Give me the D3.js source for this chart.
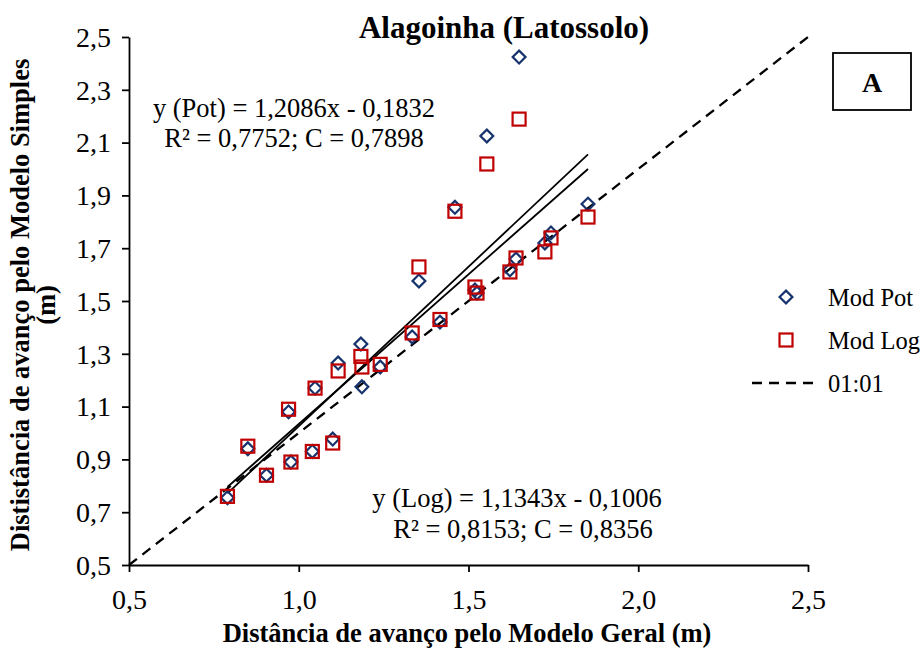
<!DOCTYPE html>
<html lang="pt">
<head>
<meta charset="UTF-8">
<script src="https://d3js.org/d3.v7.min.js"></script>
<style>
  body { margin: 0; background: #fff; }
  svg { display: block; font-family: "Liberation Serif", "Times New Roman", serif; }
</style>
</head>
<body>
<svg></svg>
<script>
// Distancia pelo Modelo Geral (x) e pelo Modelo Simples (y)
let geral  = [0.79, 0.85, 0.905, 0.97, 0.977, 1.04, 1.048, 1.10, 1.116, 1.183, 1.186, 1.24, 1.334,
              1.354, 1.416, 1.46, 1.519, 1.525, 1.554, 1.622, 1.64, 1.649, 1.725, 1.743, 1.852];
let modPot = [0.755, 0.94, 0.84, 1.08, 0.89, 0.93, 1.17, 0.977, 1.265, 1.337, 1.175, 1.25, 1.364,
              1.576, 1.42, 1.855, 1.542, 1.53, 2.125, 1.618, 1.659, 2.424, 1.72, 1.758, 1.867];
let modLog = [0.76, 0.95, 0.84, 1.09, 0.89, 0.93, 1.17, 0.962, 1.235, 1.29, 1.25, 1.26, 1.379,
              1.629, 1.43, 1.84, 1.553, 1.53, 2.019, 1.61, 1.663, 2.189, 1.686, 1.739, 1.818];

// regressoes (a, b)
let fitPot = [1.2086, -0.1832];
let fitLog = [1.1343, -0.1006];

let ticks = [0.5, 0.7, 0.9, 1.1, 1.3, 1.5, 1.7, 1.9, 2.1, 2.3, 2.5];
let xticks = [0.5, 1.0, 1.5, 2.0, 2.5];

let width = 922, height = 649;
let margin = {left: 129, right: 114, top: 37, bottom: 84};

let svg = d3.select("svg").attr("width", width).attr("height", height);

let x = d3.scaleLinear().domain([0.5, 2.5]).range([margin.left, width - margin.right]);
let y = d3.scaleLinear().domain([0.5, 2.5]).range([height - margin.bottom, margin.top]);

let comma = d3.format(".1f");
let fmt = v => comma(v).replace(".", ",");

// eixos
let xAxis = svg.append("g")
    .attr("transform", "translate(0," + y(0.5) + ")")
    .call(d3.axisBottom(x).tickValues(xticks).tickFormat(fmt).tickSize(7).tickSizeOuter(0));
let yAxis = svg.append("g")
    .attr("transform", "translate(" + x(0.5) + ",0)")
    .call(d3.axisLeft(y).tickValues(ticks).tickFormat(fmt).tickSize(7).tickSizeOuter(0));

[xAxis, yAxis].forEach(g => {
  g.selectAll("path, line").attr("stroke", "#000").attr("stroke-width", 1.8);
  g.selectAll("text").attr("fill", "#000").style("font-family", "Liberation Serif").style("font-size", "28px");
});
xAxis.selectAll("text").attr("y", 44).attr("dy", 0);
yAxis.selectAll("text").attr("x", -18).attr("dy", "0.33em");

// linha 1:1
svg.append("line")
    .attr("x1", x(0.5)).attr("y1", y(0.5))
    .attr("x2", x(2.5)).attr("y2", y(2.5))
    .attr("stroke", "#000").attr("stroke-width", 2.3)
    .attr("stroke-dasharray", "10,7");

// linhas de tendencia
let xr = d3.extent(geral);
[fitPot, fitLog].forEach(f => {
  svg.append("line")
      .attr("x1", x(xr[0])).attr("y1", y(f[0] * xr[0] + f[1]))
      .attr("x2", x(xr[1])).attr("y2", y(f[0] * xr[1] + f[1]))
      .attr("stroke", "#000").attr("stroke-width", 1.8);
});

// pontos
svg.append("g").selectAll("path")
    .data(geral.map((g, i) => [g, modPot[i]]))
    .enter().append("path")
    .attr("d", d3.symbol().type(d3.symbolSquare2).size(105))
    .attr("transform", d => "translate(" + x(d[0]) + "," + y(d[1]) + ") rotate(45)")
    .attr("fill", "none").attr("stroke", "#17336e").attr("stroke-width", 2.2);

svg.append("g").selectAll("rect")
    .data(geral.map((g, i) => [g, modLog[i]]))
    .enter().append("rect")
    .attr("x", d => x(d[0]) - 6.5).attr("y", d => y(d[1]) - 6.5)
    .attr("width", 13).attr("height", 13)
    .attr("fill", "none").attr("stroke", "#c00000").attr("stroke-width", 2.2);

// titulo
svg.append("text").attr("x", 504).attr("y", 38)
    .attr("text-anchor", "middle").style("font-weight", "bold").style("font-size", "31px")
    .text("Alagoinha (Latossolo)");

// caixa A
svg.append("rect").attr("x", 833).attr("y", 53).attr("width", 78).attr("height", 57)
    .attr("fill", "#fff").attr("stroke", "#000").attr("stroke-width", 1.8);
svg.append("text").attr("x", 872).attr("y", 92)
    .attr("text-anchor", "middle").style("font-weight", "bold").style("font-size", "28px")
    .text("A");

// equacoes
let eq = [
  {x: 294, y: 117, t: "y (Pot) = 1,2086x - 0,1832"},
  {x: 294, y: 147, t: "R² = 0,7752; C = 0,7898"},
  {x: 517, y: 507, t: "y (Log) = 1,1343x - 0,1006"},
  {x: 523, y: 538, t: "R² = 0,8153; C = 0,8356"}
];
svg.append("g").selectAll("text").data(eq).enter().append("text")
    .attr("x", d => d.x).attr("y", d => d.y)
    .attr("text-anchor", "middle").style("font-size", "26.5px")
    .text(d => d.t);

// legenda
let leg = svg.append("g");
leg.append("path")
    .attr("d", d3.symbol().type(d3.symbolSquare2).size(105))
    .attr("transform", "translate(786,297) rotate(45)")
    .attr("fill", "none").attr("stroke", "#17336e").attr("stroke-width", 2.2);
leg.append("rect").attr("x", 779.5).attr("y", 333.5).attr("width", 13).attr("height", 13)
    .attr("fill", "none").attr("stroke", "#c00000").attr("stroke-width", 2.2);
leg.append("line").attr("x1", 752).attr("x2", 818).attr("y1", 383).attr("y2", 383)
    .attr("stroke", "#000").attr("stroke-width", 2.3).attr("stroke-dasharray", "10,7");
[["Mod Pot", 306], ["Mod Log", 349], ["01:01", 392]].forEach(d => {
  leg.append("text").attr("x", 828).attr("y", d[1]).style("font-size", "24.5px").text(d[0]);
});

// titulos dos eixos
svg.append("text").attr("x", 467).attr("y", 642)
    .attr("text-anchor", "middle").style("font-weight", "bold").style("font-size", "26.5px")
    .text("Distância de avanço pelo Modelo Geral (m)");

let yl = svg.append("text").attr("transform", "translate(29,305) rotate(-90)")
    .attr("text-anchor", "middle").style("font-weight", "bold").style("font-size", "26.5px");
yl.append("tspan").attr("x", 0).attr("y", 0).text("Dististância de avanço pelo Modelo Simples");
yl.append("tspan").attr("x", 0).attr("y", 26).text("(m)");
</script>
</body>
</html>
